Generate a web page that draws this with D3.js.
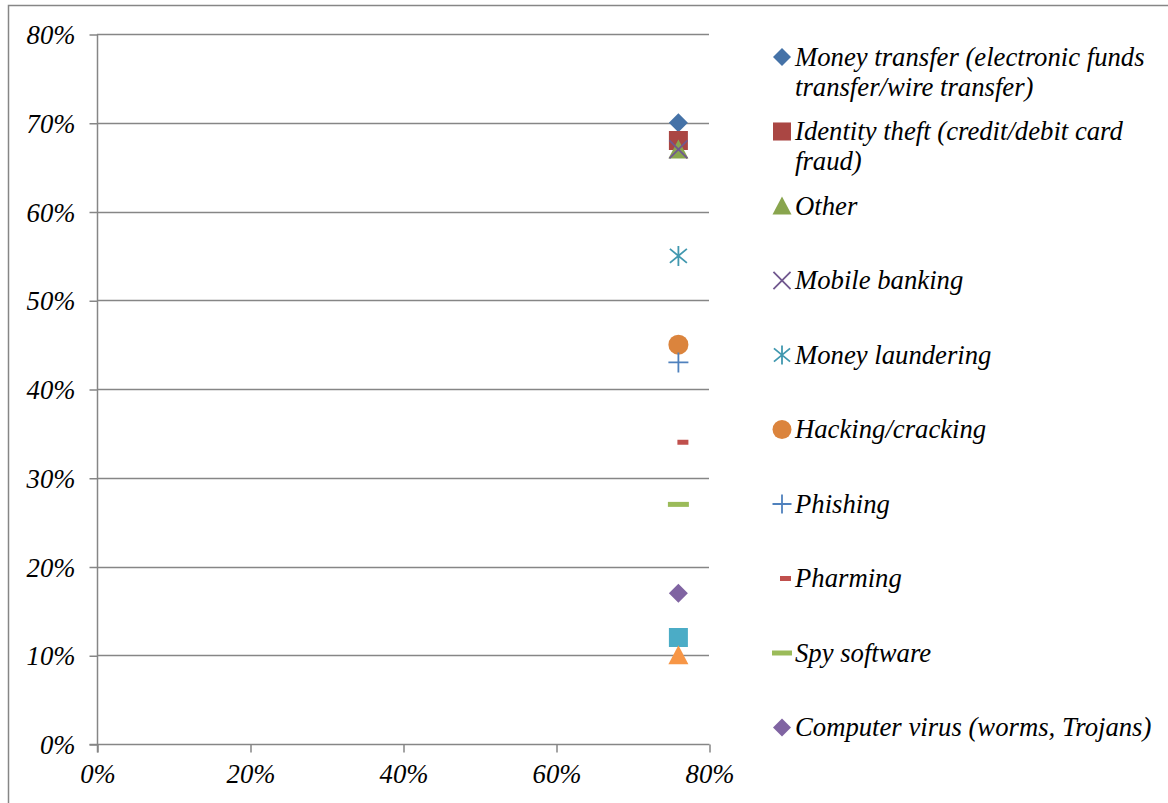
<!DOCTYPE html>
<html>
<head>
<meta charset="utf-8">
<script src="https://cdn.jsdelivr.net/npm/d3@7/dist/d3.min.js"></script>
<style>
  html, body { margin: 0; padding: 0; background: #fff; }
  svg { display: block; }
  text { font-family: "Liberation Serif", "Times New Roman", serif; font-style: italic; fill: #000; }
</style>
</head>
<body>
<svg id="chart" width="1168" height="803"></svg>
<script>
// Fraud types (legend shows the first ten series)
const seriesNames = [
  "Money transfer (electronic funds transfer/wire transfer)",
  "Identity theft (credit/debit card fraud)",
  "Other",
  "Mobile banking",
  "Money laundering",
  "Hacking/cracking",
  "Phishing",
  "Pharming",
  "Spy software",
  "Computer virus (worms, Trojans)"
];
// Share of respondents per series (x, y)
const xValues = [0.76, 0.76, 0.76, 0.76, 0.76, 0.76, 0.76, 0.76, 0.76, 0.76, 0.76, 0.76];
const yValues = [0.70, 0.68, 0.67, 0.67, 0.55, 0.45, 0.43, 0.34, 0.27, 0.17, 0.12, 0.10];
const markerShapes = ["diamond", "square", "triangle", "x", "star", "circle", "plus", "shortdash", "longdash", "diamond", "square", "triangle"];
const markerColors = ["#4572A7", "#AA4643", "#89A54E", "#71588F", "#4198AF", "#DB843D",
                      "#4F81BD", "#C0504D", "#9BBB59", "#8064A2", "#4BACC6", "#F79646"];
const xTicks = [0, 0.2, 0.4, 0.6, 0.8];
const yTicks = [0, 0.1, 0.2, 0.3, 0.4, 0.5, 0.6, 0.7, 0.8];

const svg = d3.select("#chart");
const axisColor = "#868686";
const fontSize = 26.7;

// outer chart frame
svg.append("rect")
  .attr("x", 8.5).attr("y", 5.5).attr("width", 1200).attr("height", 850)
  .attr("fill", "#fff").attr("stroke", axisColor).attr("stroke-width", 1.5);

const plot = { left: 97, right: 709, top: 34, bottom: 744 };
const x = d3.scaleLinear().domain([0, 0.8]).range([plot.left, plot.right]);
const y = d3.scaleLinear().domain([0, 0.8]).range([plot.bottom, plot.top]);
const pct = d3.format(".0%");

// horizontal gridlines
svg.append("g")
  .selectAll("line").data(yTicks.filter(d => d > 0)).join("line")
  .attr("x1", plot.left).attr("x2", plot.right)
  .attr("y1", d => Math.round(y(d)) + 0.5).attr("y2", d => Math.round(y(d)) + 0.5)
  .attr("stroke", axisColor).attr("stroke-width", 1.5);

// axes
const yAxis = svg.append("g")
  .attr("transform", `translate(${plot.left + 0.5},0.5)`)
  .call(d3.axisLeft(y).tickValues(yTicks).tickFormat(pct).tickSize(8));
const xAxis = svg.append("g")
  .attr("transform", `translate(0.5,${plot.bottom + 0.5})`)
  .call(d3.axisBottom(x).tickValues(xTicks).tickFormat(pct).tickSize(8));

[yAxis, xAxis].forEach(g => {
  g.attr("font-family", null).attr("font-size", null);
  g.select(".domain").attr("stroke", axisColor).attr("stroke-width", 1.5);
  g.selectAll(".tick line").attr("stroke", axisColor).attr("stroke-width", 1.5);
  g.selectAll(".tick text").attr("font-size", fontSize).attr("fill", "#000");
});
yAxis.select(".domain").attr("d", `M0,${plot.top}V${plot.bottom + 8}`);
xAxis.select(".domain").attr("d", `M${plot.left - 8},0H${plot.right}`);
yAxis.selectAll(".tick text").attr("x", -22).attr("dy", null).attr("y", 9);
xAxis.selectAll(".tick text").attr("y", 38).attr("dy", null);

// marker path generator
function markerPath(shape, s) {
  const h = s / 2;
  switch (shape) {
    case "diamond": return `M0,${-h}L${h},0L0,${h}L${-h},0Z`;
    case "square": return `M${-h},${-h}H${h}V${h}H${-h}Z`;
    case "triangle": return `M0,${-h}L${h},${h * 0.9}L${-h},${h * 0.9}Z`;
    case "x": return `M${-h},${-h}L${h},${h}M${h},${-h}L${-h},${h}`;
    case "star": return `M${-h * 0.85},${-h * 0.7}L${h * 0.85},${h * 0.7}M${h * 0.85},${-h * 0.7}L${-h * 0.85},${h * 0.7}M0,${-h}V${h}`;
    case "plus": return `M${-h},0H${h}M0,${-h}V${h}`;
    case "shortdash": return `M0,-2.5H11V2.5H0Z`;
    case "longdash": return `M${-h},-2.5H${h}V2.5H${-h}Z`;
    case "circle": return d3.symbol(d3.symbolCircle, Math.PI * h * h)();
  }
}
const isStroked = s => s === "x" || s === "star" || s === "plus";
const markerSize = { diamond: 19, square: 19, triangle: 20, x: 18, star: 20, circle: 20, plus: 20, shortdash: 11, longdash: 21 };

function drawMarker(g, i, scale, dashShift) {
  const shape = markerShapes[i];
  const p = g.append("path").attr("d", markerPath(shape, markerSize[shape] * scale));
  if (shape === "shortdash") p.attr("transform", `translate(${dashShift},0)`);
  if (isStroked(shape)) p.attr("fill", "none").attr("stroke", markerColors[i]).attr("stroke-width", 1.8);
  else p.attr("fill", markerColors[i]);
}

// data markers
const points = svg.append("g");
yValues.forEach((v, i) => {
  const g = points.append("g").attr("transform", `translate(${x(xValues[i])},${y(v)})`);
  drawMarker(g, i, 1, -1);
});

// legend
const legend = svg.append("g");
const legendTop = 57, legendStep = 74.5, legendX = 782, textX = 795, maxWidth = 362, lineGap = 30;
seriesNames.forEach((name, i) => {
  const cy = legendTop + i * legendStep;
  const g = legend.append("g").attr("transform", `translate(${legendX},${cy})`);
  drawMarker(g, i, 0.95, -2);
  const t = legend.append("text")
    .attr("transform", `translate(${textX},${cy + 8.5})`)
    .attr("font-size", fontSize);
  const words = name.split(" ");
  let line = [], tspan = t.append("tspan").attr("x", 0), lineNo = 0;
  words.forEach(w => {
    line.push(w);
    tspan.text(line.join(" "));
    if (tspan.node().getComputedTextLength() > maxWidth && line.length > 1) {
      line.pop();
      tspan.text(line.join(" "));
      line = [w];
      lineNo++;
      tspan = t.append("tspan").attr("x", 0).attr("y", lineNo * lineGap).text(w);
    }
  });
});
</script>
</body>
</html>
